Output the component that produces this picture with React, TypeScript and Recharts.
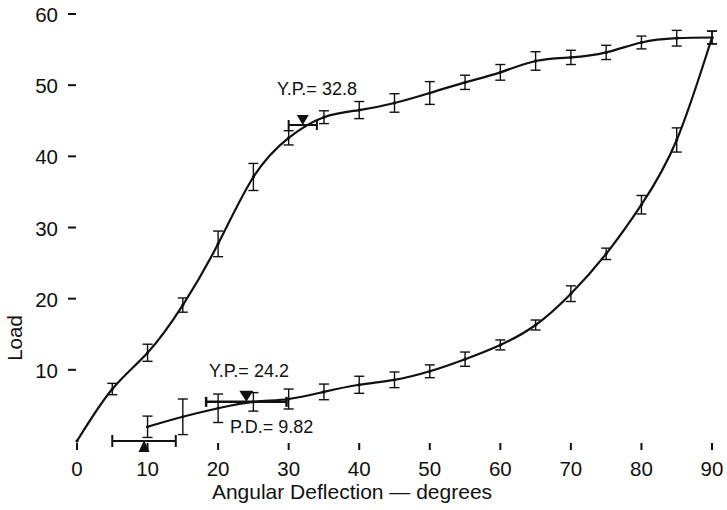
import React from "react";
import { ComposedChart, Line, Scatter, XAxis, YAxis, ErrorBar } from "recharts";

// loading curve (upper)
const upperDeflection = [0, 5, 10, 15, 20, 25, 30, 35, 40, 45, 50, 55, 60, 65, 70, 75, 80, 85, 90];
const upperLoad = [0, 7.3, 12.4, 19.1, 27.7, 37.1, 42.6, 45.5, 46.5, 47.5, 48.9, 50.4, 51.8, 53.4, 53.9, 54.6, 56.0, 56.6, 56.7];
const upperErr = [0, 0.8, 1.2, 1.0, 1.8, 1.9, 1.0, 0.9, 1.2, 1.3, 1.6, 1.0, 1.1, 1.3, 1.0, 1.0, 0.9, 1.1, 0.9];

// unloading curve (lower)
const lowerDeflection = [10, 15, 20, 25, 30, 35, 40, 45, 50, 55, 60, 65, 70, 75, 80, 85, 90];
const lowerLoad = [2.0, 3.4, 4.6, 5.5, 5.9, 6.9, 7.9, 8.6, 9.8, 11.5, 13.5, 16.3, 20.7, 26.3, 33.2, 42.3, 56.7];
const lowerErr = [1.5, 2.5, 2.0, 1.3, 1.4, 1.1, 1.2, 1.1, 0.9, 1.0, 0.7, 0.7, 1.1, 0.8, 1.3, 1.7, 0.9];

// yield points / permanent deflection markers
const ypUpper = [{ x: 32.0, load: 44.4, xErr: 2.0 }];
const ypLower = [{ x: 24.0, load: 5.5, xErr: 5.7 }];
const pdPoint = [{ x: 9.5, load: 0, xErr: 4.5 }];

const xTicks = [0, 10, 20, 30, 40, 50, 60, 70, 80, 90];
const yTicks = [10, 20, 30, 40, 50, 60];

const upperData = upperDeflection.map((x, i) => ({ x, load: upperLoad[i], err: upperErr[i] }));
const lowerData = lowerDeflection.map((x, i) => ({ x, load: lowerLoad[i], err: lowerErr[i] }));

const FONT = "'Liberation Sans', Arial, Helvetica, sans-serif";
const INK = "#111";

const XTick = ({ x, y, payload }: any) => (
    <g>
        <line x1={x} x2={x} y1={y + 2} y2={y + 9} stroke={INK} strokeWidth={2} />
        <text x={x} y={y + 35} textAnchor="middle" fontSize={20.5} fontFamily={FONT} fill={INK}>
            {payload.value}
        </text>
    </g>
);

const YTick = ({ x, y, payload }: any) => (
    <g>
        <line x1={x - 9} x2={x - 1} y1={y} y2={y} stroke={INK} strokeWidth={2} />
        <text x={x - 19} y={y + 8} textAnchor="end" fontSize={20.5} fontFamily={FONT} fill={INK}>
            {payload.value}
        </text>
    </g>
);

const downTriangle = (w: number, h: number) => (p: any) =>
    <polygon points={`${p.cx - w / 2},${p.cy - h} ${p.cx + w / 2},${p.cy - h} ${p.cx},${p.cy}`} fill={INK} />;

const upTriangle = (p: any) =>
    <polygon points={`${p.cx - 5.5},${p.cy + 11} ${p.cx + 5.5},${p.cy + 11} ${p.cx},${p.cy - 1}`} fill={INK} />;

export default function App() {
    return (
        <div style={{ position: "relative", width: 727, height: 510, background: "#fff" }}>
            <style>{`body{margin:0;background:#fff}`}</style>
            <ComposedChart width={727} height={510} margin={{ top: 14, right: 15, bottom: 0, left: 0 }}>
                <XAxis
                    type="number"
                    dataKey="x"
                    domain={[0, 90]}
                    ticks={xTicks}
                    axisLine={false}
                    tickLine={false}
                    tickSize={0}
                    tickMargin={0}
                    height={69}
                    tick={<XTick />}
                />
                <YAxis
                    type="number"
                    dataKey="load"
                    domain={[0, 60]}
                    ticks={yTicks}
                    axisLine={false}
                    tickLine={false}
                    tickSize={0}
                    tickMargin={0}
                    width={77}
                    tick={<YTick />}
                />
                <Line data={upperData} dataKey="load" type="natural" stroke={INK} strokeWidth={2.2}
                    dot={{ r: 1.6, fill: INK, stroke: "none" }} isAnimationActive={false}>
                    <ErrorBar dataKey="err" width={5} stroke={INK} strokeWidth={1.4} />
                </Line>
                <Line data={lowerData} dataKey="load" type="natural" stroke={INK} strokeWidth={2.2}
                    dot={{ r: 1.6, fill: INK, stroke: "none" }} isAnimationActive={false}>
                    <ErrorBar dataKey="err" width={5} stroke={INK} strokeWidth={1.4} />
                </Line>
                <Scatter data={ypUpper} dataKey="load" shape={downTriangle(12, 10)} isAnimationActive={false}>
                    <ErrorBar dataKey="xErr" direction="x" width={5} stroke={INK} strokeWidth={2} />
                </Scatter>
                <Scatter data={ypLower} dataKey="load" shape={downTriangle(14, 11)} isAnimationActive={false}>
                    <ErrorBar dataKey="xErr" direction="x" width={5} stroke={INK} strokeWidth={2.5} />
                </Scatter>
                <Scatter data={pdPoint} dataKey="load" shape={upTriangle} isAnimationActive={false}>
                    <ErrorBar dataKey="xErr" direction="x" width={6} stroke={INK} strokeWidth={2} />
                </Scatter>
            </ComposedChart>
            <svg width={727} height={510} style={{ position: "absolute", left: 0, top: 0, pointerEvents: "none" }}>
                <g fontFamily={FONT} fill={INK}>
                    <text x={277} y={95} fontSize={18}>Y.P.= 32.8</text>
                    <text x={209} y={377} fontSize={18}>Y.P.= 24.2</text>
                    <text x={230} y={433} fontSize={18}>P.D.= 9.82</text>
                    <text x={352} y={499} fontSize={21} textAnchor="middle">Angular Deflection — degrees</text>
                    <text x={22} y={338} fontSize={20.5} textAnchor="middle" transform="rotate(-90 22 338)">Load</text>
                </g>
            </svg>
        </div>
    );
}
